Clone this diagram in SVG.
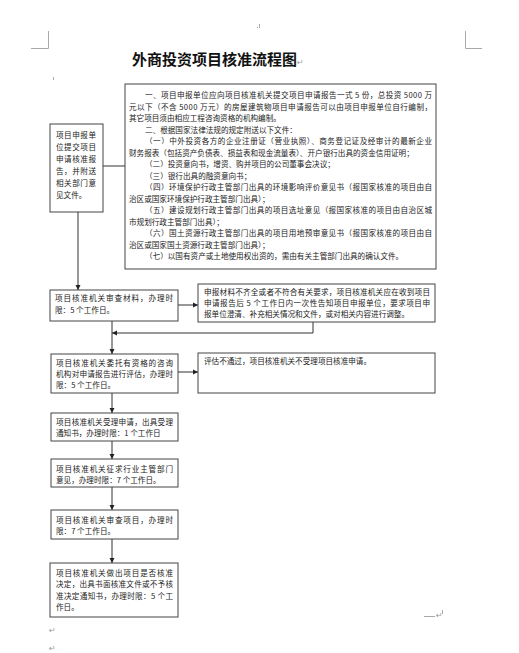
<svg xmlns="http://www.w3.org/2000/svg" width="519" height="653" viewBox="0 0 519 653">
<style>
.t{font-family:"Noto Sans CJK SC","Noto Sans",sans-serif;font-size:7.6px;fill:#222}
.b{fill:#fff;stroke:#444;stroke-width:1}
.c{fill:none;stroke:#333;stroke-width:1}
.m{fill:none;stroke:#aaa;stroke-width:1}
.r{font-family:"DejaVu Sans",sans-serif;font-size:8px;fill:#999}
.ttl{font-family:"Noto Sans CJK SC",sans-serif;font-size:15px;font-weight:bold;fill:#111}
</style>
<defs>
<marker id="ah" markerWidth="6" markerHeight="6" refX="5" refY="3" orient="auto" markerUnits="userSpaceOnUse">
<path d="M0,0.5 L5,3 L0,5.5 Z" fill="#222"/>
</marker>
</defs>
<g id="page-marks">
<path class="m" d="M31,48.5 H48.5 V31"/>
<path class="m" d="M465.5,31 V48.5 H482"/>
<path class="m" d="M259.5,24 V28 M257,27.5 h1" />
<path class="m" d="M53.5,77 V80"/>
<path class="m" d="M424,616.5 H435"/>
<path class="m" d="M442.5,610 V614"/>
<text class="r" x="436" y="618">↵</text>
<text class="r" x="49" y="633">↵</text>
<text class="r" x="49" y="651">↵</text>
</g>
<g id="title">
<text class="ttl" x="132" y="65">外商投资项目核准流程图</text>
<text class="r" x="297" y="65">↵</text>
</g>
<g id="connectors">
<line class="c" x1="103" y1="166" x2="125" y2="166"/>
<line class="c" x1="78" y1="212" x2="78" y2="290" marker-end="url(#ah)"/>
<line class="c" x1="178" y1="305" x2="198" y2="305" marker-end="url(#ah)"/>
<polyline class="c" points="313,322 313,333 112,333" marker-end="url(#ah)"/>
<line class="c" x1="112" y1="321" x2="112" y2="354" marker-end="url(#ah)"/>
<line class="c" x1="178" y1="372" x2="198" y2="372" marker-end="url(#ah)"/>
<line class="c" x1="112" y1="393" x2="112" y2="413" marker-end="url(#ah)"/>
<line class="c" x1="112" y1="441" x2="112" y2="459" marker-end="url(#ah)"/>
<line class="c" x1="112" y1="487" x2="112" y2="510" marker-end="url(#ah)"/>
<line class="c" x1="112" y1="539" x2="112" y2="563" marker-end="url(#ah)"/>
</g>
<g id="documents">
<rect class="b" x="125" y="84" width="311" height="185"/>
<text class="t" x="145" y="98" textLength="287" lengthAdjust="spacing">一、项目申报单位应向项目核准机关提交项目申请报告一式 5 份，总投资 5000 万</text>
<text class="t" x="129" y="109.5" textLength="303" lengthAdjust="spacing">元以下（不含 5000 万元）的房屋建筑物项目申请报告可以由项目申报单位自行编制，</text>
<text class="t" x="129" y="121">其它项目须由相应工程咨询资格的机构编制。</text>
<text class="t" x="145" y="132.5">二、根据国家法律法规的规定附送以下文件：</text>
<text class="t" x="145" y="144" textLength="287" lengthAdjust="spacing">（一）中外投资各方的企业注册证（营业执照）、商务登记证及经审计的最新企业</text>
<text class="t" x="129" y="155.5">财务报表（包括资产负债表、损益表和现金流量表）、开户银行出具的资金信用证明；</text>
<text class="t" x="145" y="167">（二）投资意向书，增资、购并项目的公司董事会决议；</text>
<text class="t" x="145" y="178.5">（三）银行出具的融资意向书；</text>
<text class="t" x="145" y="190" textLength="287" lengthAdjust="spacing">（四）环境保护行政主管部门出具的环境影响评价意见书（报国家核准的项目由自</text>
<text class="t" x="129" y="201.5">治区或国家环境保护行政主管部门出具）；</text>
<text class="t" x="145" y="213" textLength="287" lengthAdjust="spacing">（五）建设规划行政主管部门出具的项目选址意见（报国家核准的项目由自治区城</text>
<text class="t" x="129" y="224.5">市规划行政主管部门出具）；</text>
<text class="t" x="145" y="236" textLength="287" lengthAdjust="spacing">（六）国土资源行政主管部门出具的项目用地预审意见书（报国家核准的项目由自</text>
<text class="t" x="129" y="247.5">治区或国家国土资源行政主管部门出具）；</text>
<text class="t" x="145" y="259">（七）以国有资产或土地使用权出资的，需由有关主管部门出具的确认文件。</text>
</g>
<g id="submit">
<rect class="b" x="50" y="124" width="53" height="88"/>
<text class="t" x="56" y="138" textLength="40" lengthAdjust="spacing">项目申报单</text>
<text class="t" x="56" y="150" textLength="40" lengthAdjust="spacing">位提交项目</text>
<text class="t" x="56" y="162" textLength="40" lengthAdjust="spacing">申请核准报</text>
<text class="t" x="56" y="174" textLength="40" lengthAdjust="spacing">告，并附送</text>
<text class="t" x="56" y="186" textLength="40" lengthAdjust="spacing">相关部门意</text>
<text class="t" x="56" y="198">见文件。</text>
</g>
<g id="review-materials">
<rect class="b" x="50" y="290" width="128" height="31"/>
<text class="t" x="55" y="301" textLength="118" lengthAdjust="spacing">项目核准机关审查材料，办理时</text>
<text class="t" x="55" y="312.5">限：5 个工作日。</text>
</g>
<g id="incomplete">
<rect class="b" x="198" y="284" width="237" height="38"/>
<text class="t" x="204" y="295" textLength="226" lengthAdjust="spacing">申报材料不齐全或者不符合有关要求，项目核准机关应在收到项目</text>
<text class="t" x="204" y="306" textLength="226" lengthAdjust="spacing">申请报告后 5 个工作日内一次性告知项目申报单位，要求项目申</text>
<text class="t" x="204" y="317">报单位澄清、补充相关情况和文件，或对相关内容进行调整。</text>
</g>
<g id="evaluate">
<rect class="b" x="51" y="354" width="127" height="39"/>
<text class="t" x="56" y="366" textLength="117" lengthAdjust="spacing">项目核准机关委托有资格的咨询</text>
<text class="t" x="56" y="377" textLength="117" lengthAdjust="spacing">机构对申请报告进行评估，办理时</text>
<text class="t" x="56" y="388">限：5 个工作日。</text>
</g>
<g id="not-passed">
<rect class="b" x="198" y="353" width="237" height="40"/>
<text class="t" x="204" y="364">评估不通过，项目核准机关不受理项目核准申请。</text>
</g>
<g id="accept">
<rect class="b" x="51" y="413" width="127" height="28"/>
<text class="t" x="56" y="424.5" textLength="117" lengthAdjust="spacing">项目核准机关受理申请，出具受理</text>
<text class="t" x="56" y="435.5">通知书，办理时限：1 个工作日</text>
</g>
<g id="consult">
<rect class="b" x="51" y="459" width="127" height="28"/>
<text class="t" x="56" y="472" textLength="117" lengthAdjust="spacing">项目核准机关征求行业主管部门</text>
<text class="t" x="56" y="483">意见，办理时限：7 个工作日。</text>
</g>
<g id="review-project">
<rect class="b" x="51" y="510" width="127" height="29"/>
<text class="t" x="56" y="523" textLength="117" lengthAdjust="spacing">项目核准机关审查项目，办理时</text>
<text class="t" x="56" y="534">限：7 个工作日。</text>
</g>
<g id="decision">
<rect class="b" x="50" y="563" width="128" height="54"/>
<text class="t" x="56" y="576" textLength="117" lengthAdjust="spacing">项目核准机关做出项目是否核准</text>
<text class="t" x="56" y="587" textLength="117" lengthAdjust="spacing">决定，出具书面核准文件或不予核</text>
<text class="t" x="56" y="598.5" textLength="117" lengthAdjust="spacing">准决定通知书，办理时限：5 个工</text>
<text class="t" x="56" y="609.5">作日。</text>
</g>
</svg>
